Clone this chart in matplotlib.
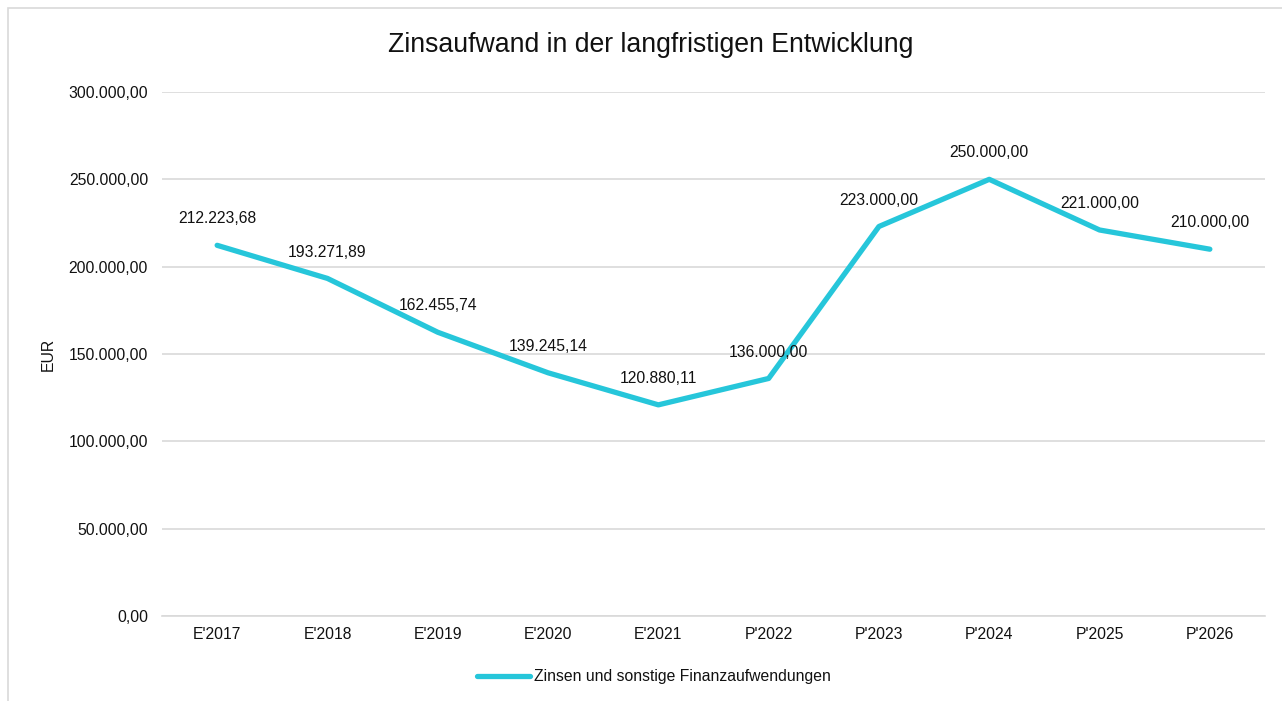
import matplotlib
matplotlib.use("Agg")
import matplotlib.pyplot as plt
from matplotlib.patches import Rectangle
from matplotlib.ticker import FuncFormatter, MultipleLocator

categories = ["E'2017", "E'2018", "E'2019", "E'2020", "E'2021",
              "P'2022", "P'2023", "P'2024", "P'2025", "P'2026"]
values = [212223.68, 193271.89, 162455.74, 139245.14, 120880.11,
          136000.00, 223000.00, 250000.00, 221000.00, 210000.00]
series_name = "Zinsen und sonstige Finanzaufwendungen"
title = "Zinsaufwand in der langfristigen Entwicklung"
y_label = "EUR"

plt.rcParams['font.family'] = ['Liberation Sans', 'DejaVu Sans']

W, H = 1282, 701
fig = plt.figure(figsize=(W / 100, H / 100), dpi=100)
fig.patch.set_facecolor('white')

# chart frame
fig.patches.append(Rectangle((8 / W, -0.2), 1.5, (H - 8) / H + 0.2,
                             transform=fig.transFigure, fill=False,
                             edgecolor='#D9D9D9', linewidth=1.2))

ax = fig.add_axes([162 / W, (H - 616) / H, (1265 - 162) / W, (616 - 92) / H])

def de_fmt(v, pos=None):
    s = f"{v:,.2f}"
    return s.replace(",", "X").replace(".", ",").replace("X", ".")

x = list(range(len(categories)))
line, = ax.plot(x, values, color='#26C6DA', linewidth=3.8,
                solid_joinstyle='round', solid_capstyle='round',
                label=series_name, zorder=3)

for xi, v in zip(x, values):
    ax.annotate(de_fmt(v), (xi, v), xytext=(0, 19), textcoords='offset points',
                ha='center', va='center', fontsize=11.3, color='#111111')

ax.set_xlim(-0.5, len(categories) - 0.5)
ax.set_ylim(0, 300000)
ax.yaxis.set_major_locator(MultipleLocator(50000))
ax.yaxis.set_major_formatter(FuncFormatter(de_fmt))
ax.set_xticks(x)
ax.set_xticklabels(categories)

ax.grid(axis='y', color='#D9D9D9', linewidth=1.2)
ax.set_axisbelow(True)
for s in ['top', 'right', 'left']:
    ax.spines[s].set_visible(False)
ax.spines['bottom'].set_color('#D9D9D9')
ax.spines['bottom'].set_linewidth(1.2)
ax.tick_params(axis='both', length=0, labelsize=11.3, colors='#111111')
ax.tick_params(axis='y', pad=10)
ax.tick_params(axis='x', pad=8)

ax.set_ylabel(y_label, fontsize=11.3, color='#111111')
ax.yaxis.set_label_coords((56 - 162) / (1265 - 162), 0.5)

fig.text(651 / W, 1 - 45 / H, title, ha='center', va='center',
         fontsize=19.2, color='#111111')

fig.legend(handles=[line], loc='center', bbox_to_anchor=(654 / W, 1 - 677 / H),
           frameon=False, fontsize=11.3, handlelength=3.4, handletextpad=0.25,
           labelcolor='#111111')

fig.savefig('out.png', dpi=100, facecolor='white')
